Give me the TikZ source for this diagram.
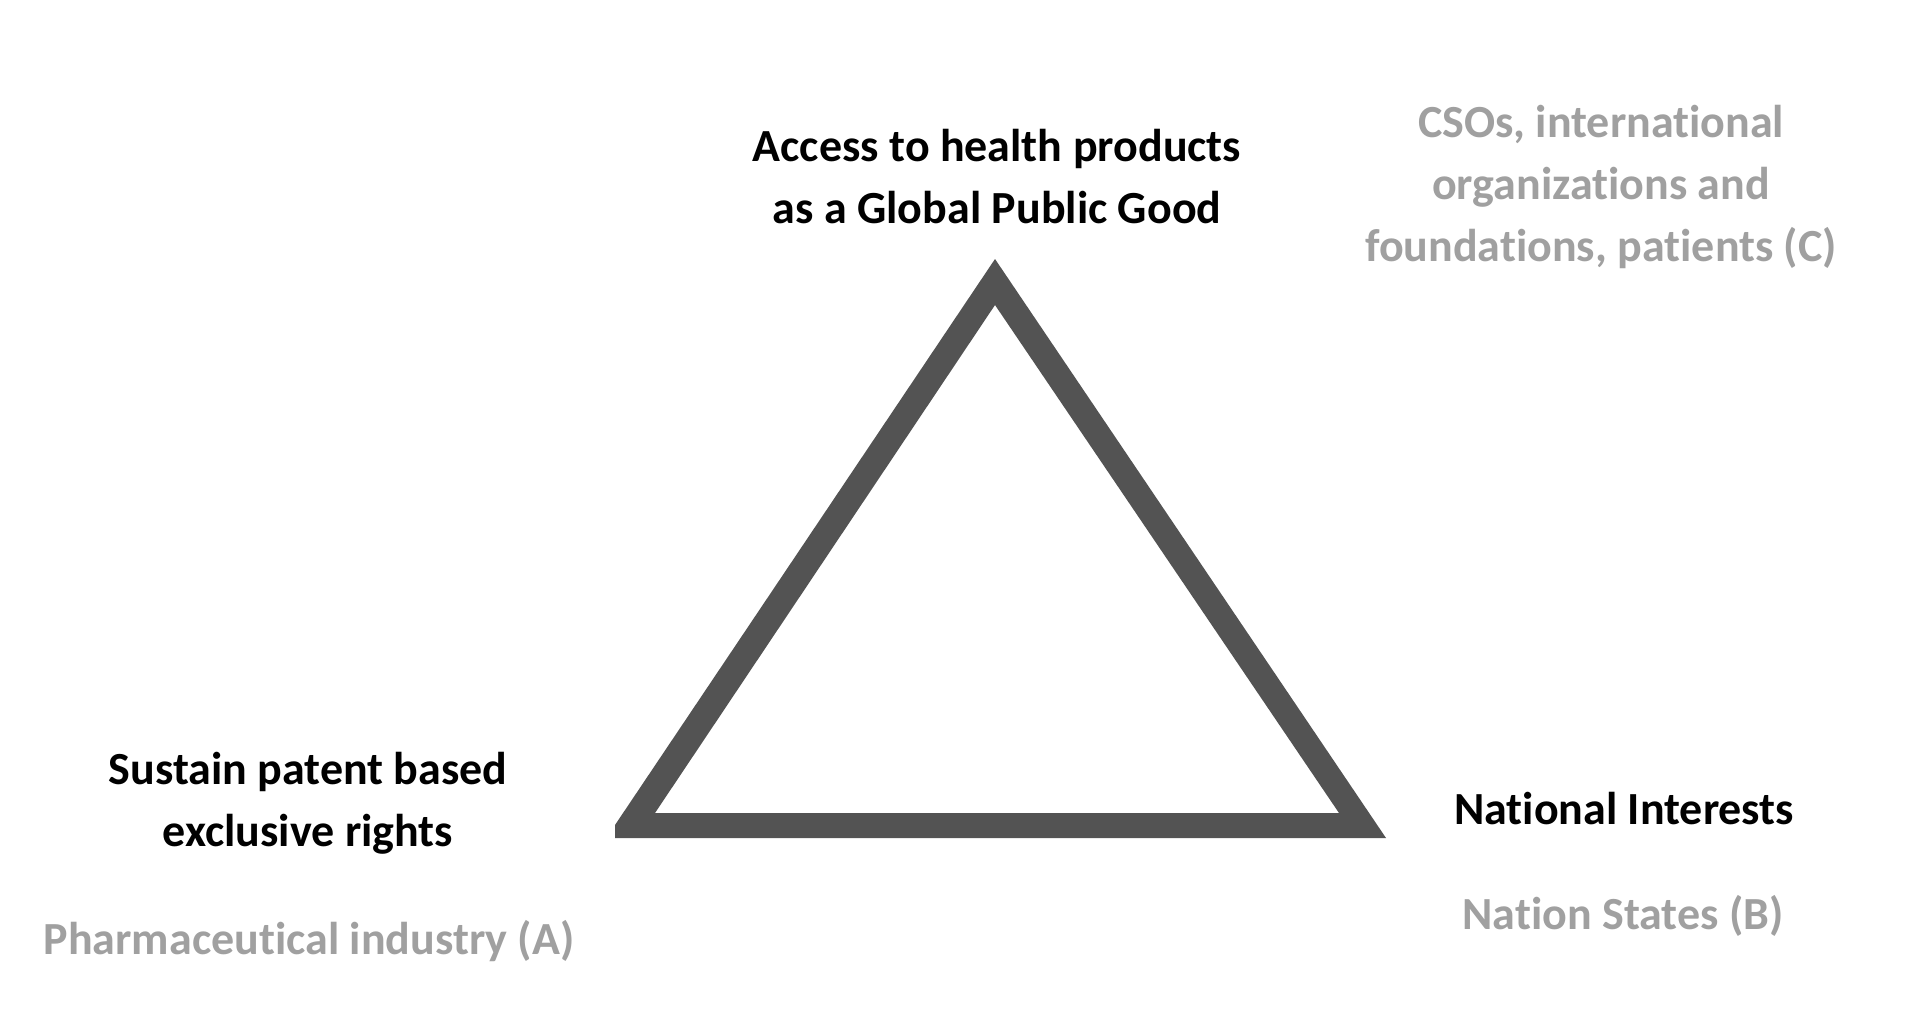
\documentclass[tikz,border=0pt]{standalone}
\usepackage{fontspec}
\setmainfont{Carlito}[Ligatures=NoCommon]
\definecolor{tri}{HTML}{535353}
\definecolor{actor}{HTML}{A0A0A0}
\tikzset{
  lbl/.style={font=\fontsize{46pt}{62pt}\selectfont\bfseries, inner sep=0pt, align=center, anchor=base},
  goal/.style={lbl, text=black},
  who/.style={lbl, text=actor}
}
\begin{document}
\begin{tikzpicture}[x=1pt,y=-1pt]
\useasboundingbox[fill=white] (0,0) rectangle (1909,1029);
\fill[tri, even odd rule] (615,825) -- (995,259) -- (1386,838) -- (615,838) -- cycle
  (655,813) -- (995,305) -- (1339,813) -- cycle;
\node[goal] (gpg) at (997,223) {Access to health products\\as a Global Public Good};
\node[who] (csos) at (1601,261) {CSOs, international\\organizations and\\foundations, patients (C)};
\node[goal] (patent) at (308,846) {Sustain patent based\\exclusive rights};
\node[who] (pharma) at (309,954) {Pharmaceutical industry (A)};
\node[goal] (natl) at (1624,824) {National Interests};
\node[who] (states) at (1623,929) {Nation States (B)};
\end{tikzpicture}
\end{document}
